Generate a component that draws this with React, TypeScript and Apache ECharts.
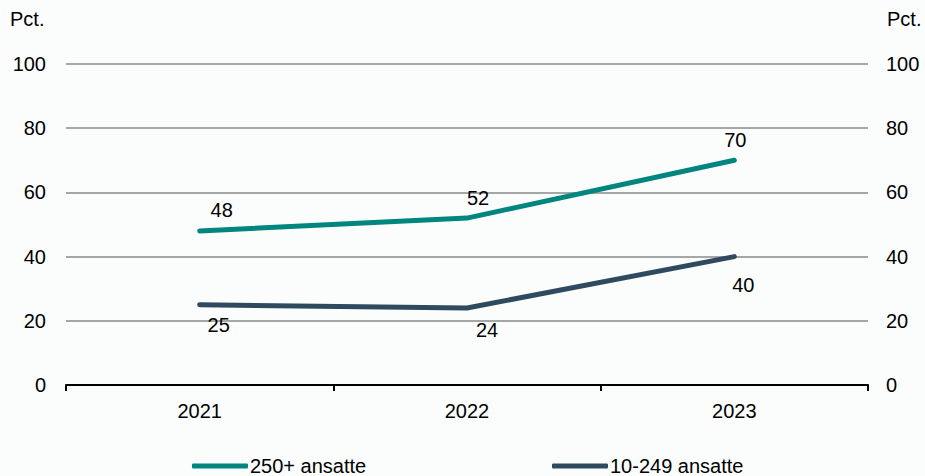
import React, { useEffect, useRef } from "react";
import * as echarts from "echarts";

// Årstal og andele (pct.) for de to virksomhedsstørrelser
const years = ["2021", "2022", "2023"];
const large = [48, 52, 70]; // 250+ ansatte
const small = [25, 24, 40]; // 10-249 ansatte
const yTicks = [0, 20, 40, 60, 80, 100];

const seriesNames = ["250+ ansatte", "10-249 ansatte"];

// Label nudges per point (pixels) for placement around the line
const largeLabelShift: [number, number][] = [[22, -1], [11, 0], [1, 0]];
const smallLabelShift: [number, number][] = [[19, 0], [20, 2], [9, 8]];

const FONT = "Liberation Sans, Arial, sans-serif";
const TEAL = "#00857f";
const NAVY = "#2f4a5e";

export default function App() {
  const ref = useRef<HTMLDivElement>(null);

  useEffect(() => {
    if (!ref.current) return;
    const chart = echarts.init(ref.current, null, { renderer: "svg" });

    const labelStyle = { color: "#000", fontFamily: FONT, fontSize: 20 };

    const legendBase = {
      top: 451,
      icon: "roundRect",
      itemWidth: 56,
      itemHeight: 5,
      textStyle: { ...labelStyle, padding: [0, 0, 0, -3] },
      selectedMode: false,
    };

    chart.setOption({
      animation: false,
      backgroundColor: "#fbfdfd",
      textStyle: { fontFamily: FONT },
      grid: { left: 66, right: 57, top: 64, bottom: 91 },
      graphic: [
        { type: "text", left: 10, top: 9, style: { text: "Pct.", font: `20px ${FONT}`, fill: "#000" } },
        { type: "text", left: 887, top: 9, style: { text: "Pct.", font: `20px ${FONT}`, fill: "#000" } },
      ],
      legend: [
        { ...legendBase, data: [seriesNames[0]], left: 187 },
        { ...legendBase, data: [seriesNames[1]], left: 547 },
      ],
      xAxis: {
        type: "category",
        data: years,
        boundaryGap: true,
        axisLine: { lineStyle: { color: "#000", width: 2 } },
        axisTick: { show: true, length: 6, lineStyle: { color: "#000", width: 2 } },
        axisLabel: { ...labelStyle, margin: 16 },
      },
      yAxis: [
        {
          type: "value",
          min: yTicks[0],
          max: yTicks[yTicks.length - 1],
          interval: yTicks[1] - yTicks[0],
          axisLine: { show: false },
          axisTick: { show: false },
          axisLabel: { ...labelStyle, margin: 20 },
          splitLine: { lineStyle: { color: "#a6a6a6", width: 2 } },
        },
        {
          type: "value",
          position: "right",
          min: yTicks[0],
          max: yTicks[yTicks.length - 1],
          interval: yTicks[1] - yTicks[0],
          axisLine: { show: false },
          axisTick: { show: false },
          axisLabel: { ...labelStyle, margin: 18 },
          splitLine: { show: false },
        },
      ],
      series: [
        {
          name: seriesNames[0],
          type: "line",
          data: large.map((v, i) => ({ value: v, label: { offset: largeLabelShift[i] } })),
          color: TEAL,
          lineStyle: { width: 5, color: TEAL, cap: "round" },
          symbol: "circle",
          symbolSize: 0,
          showSymbol: true,
          label: { show: true, position: "top", distance: 10, ...labelStyle },
        },
        {
          name: seriesNames[1],
          type: "line",
          data: small.map((v, i) => ({ value: v, label: { offset: smallLabelShift[i] } })),
          color: NAVY,
          lineStyle: { width: 5, color: NAVY, cap: "round" },
          symbol: "circle",
          symbolSize: 0,
          showSymbol: true,
          label: { show: true, position: "bottom", distance: 10, ...labelStyle },
        },
      ],
    });

    return () => chart.dispose();
  }, []);

  return (
    <div
      ref={ref}
      style={{ position: "absolute", left: 0, top: 0, width: 925, height: 476 }}
    />
  );
}
